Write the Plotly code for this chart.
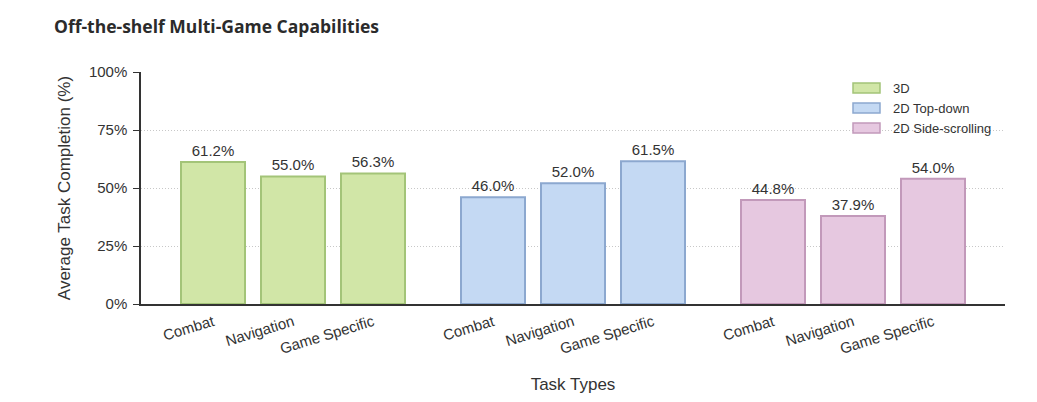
import plotly.graph_objects as go

series_names = ["3D", "2D Top-down", "2D Side-scrolling"]
task_types = ["Combat", "Navigation", "Game Specific"]
values_3d = [61.2, 55.0, 56.3]
values_2d_topdown = [46.0, 52.0, 61.5]
values_2d_side = [44.8, 37.9, 54.0]
y_tick_vals = [0, 25, 50, 75, 100]
y_tick_text = ["0%", "25%", "50%", "75%", "100%"]

fills = ["#d1e6a7", "#c4d9f3", "#e6c8e0"]
edges = ["#a3c478", "#8ca8cf", "#c299ba"]
group_offsets = [0.0, 3.5, 7.0]
all_values = [values_3d, values_2d_topdown, values_2d_side]

W, H = 1037, 402
ML, MR, MT, MB = 141, 32, 72, 98
PW, PH = W - ML - MR, H - MT - MB

FONT = "Liberation Sans, Arial, sans-serif"
fig = go.Figure()
tickvals, ticktext = [], []
for g, (name, vals) in enumerate(zip(series_names, all_values)):
    xs = [group_offsets[g] + i for i in range(len(task_types))]
    tickvals += xs
    ticktext += task_types
    fig.add_trace(go.Bar(
        x=xs, y=vals, name=name, width=0.8,
        marker=dict(color=fills[g], line=dict(color=edges[g], width=2)),
        text=[f"{v:.1f}%" for v in vals], textposition="outside",
        textfont=dict(family=FONT, size=15, color="#333333"),
        cliponaxis=False, showlegend=False,
    ))

# legend (drawn as layout decorations)
shapes, annotations = [], []
leg_x0, leg_x1, leg_tx = 853, 880, 891
for i, name in enumerate(series_names):
    cy = 88 + 20 * i
    shapes.append(dict(type="rect", xref="paper", yref="paper",
                       x0=(leg_x0 - ML) / PW, x1=(leg_x1 - ML) / PW,
                       y0=(H - MB - (cy + 5)) / PH, y1=(H - MB - (cy - 5)) / PH,
                       fillcolor=fills[i], line=dict(color=edges[i], width=1.5)))
    annotations.append(dict(text=name, xref="paper", yref="paper",
                            x=(leg_tx - ML) / PW, y=(H - MB - cy) / PH,
                            xanchor="left", yanchor="middle", showarrow=False,
                            font=dict(family=FONT, size=13, color="#333333")))

fig.update_layout(
    width=W, height=H,
    margin=dict(l=ML, r=MR, t=MT, b=MB, autoexpand=False),
    paper_bgcolor="white", plot_bgcolor="white",
    barmode="overlay",
    font=dict(family=FONT, size=15, color="#333333"),
    title=dict(text="<b>Off-the-shelf Multi-Game Capabilities</b>",
               font=dict(family="Open Sans, sans-serif", size=17.5, color="#2b2b2b"),
               x=54 / W, xanchor="left", y=1 - 27 / H, yanchor="middle",
               xref="container", yref="container"),
    shapes=shapes, annotations=annotations,
    xaxis=dict(range=[-0.9, 9.9], tickvals=tickvals, ticktext=ticktext,
               tickangle=-17, showgrid=False, zeroline=False,
               showline=True, linecolor="#333333", linewidth=1.5,
               ticks="", tickfont=dict(family=FONT, size=15, color="#333333"),
               ticklabelstandoff=2, automargin=False,
               title=dict(text="Task Types", font=dict(family=FONT, size=17, color="#333333"),
                          standoff=22)),
    yaxis=dict(range=[0, 100], tickvals=y_tick_vals, ticktext=y_tick_text,
               showgrid=True, gridcolor="#c8c8c8", griddash="1px,2px", gridwidth=1,
               zeroline=False, showline=True, linecolor="#333333", linewidth=1.5,
               ticks="outside", ticklen=6, tickcolor="#333333",
               ticklabelstandoff=3, automargin=False,
               tickfont=dict(family=FONT, size=15, color="#333333"),
               title=dict(text="Average Task Completion (%)",
                          font=dict(family=FONT, size=17, color="#333333"), standoff=14)),
)

fig.write_html("out.html", config={"displayModeBar": False},
               post_script="document.body.style.margin='0px';")
